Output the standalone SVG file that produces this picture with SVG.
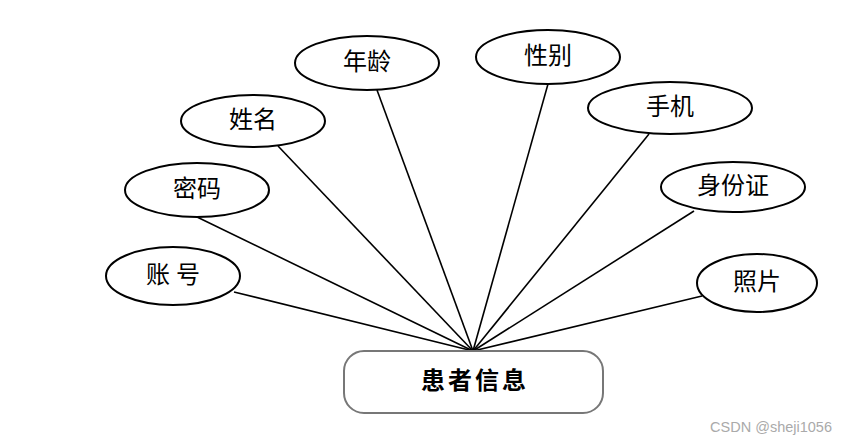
<svg xmlns="http://www.w3.org/2000/svg" width="847" height="444" viewBox="0 0 847 444">
<style>
.e{fill:#fff;stroke:#000;stroke-width:2}
.t{font-family:"Liberation Serif","Noto Sans CJK SC",serif;font-size:24px;fill:#000;text-anchor:middle;dominant-baseline:central}
.c line{stroke:#000;stroke-width:1.6}
</style>
<rect width="847" height="444" fill="#fff"/>
<g class="c" id="connectors">
<line x1="234" y1="292" x2="473" y2="351"/>
<line x1="197" y1="217" x2="473" y2="351"/>
<line x1="278" y1="146" x2="473" y2="351"/>
<line x1="377" y1="90" x2="473" y2="351"/>
<line x1="548" y1="84" x2="473" y2="351"/>
<line x1="649" y1="134" x2="473" y2="351"/>
<line x1="694" y1="211" x2="473" y2="351"/>
<line x1="702" y1="296" x2="473" y2="351"/>
</g>
<g id="n-zhanghao"><ellipse class="e" cx="173" cy="276" rx="67" ry="29"/><text class="t" x="176" y="275" letter-spacing="6">账号</text></g>
<g id="n-mima"><ellipse class="e" cx="197" cy="190" rx="72" ry="27"/><text class="t" x="197" y="189">密码</text></g>
<g id="n-xingming"><ellipse class="e" cx="253" cy="121" rx="72" ry="26"/><text class="t" x="253" y="120">姓名</text></g>
<g id="n-nianling"><ellipse class="e" cx="367" cy="63" rx="72" ry="27"/><text class="t" x="367" y="62">年龄</text></g>
<g id="n-xingbie"><ellipse class="e" cx="548" cy="57" rx="72" ry="27"/><text class="t" x="548" y="56">性别</text></g>
<g id="n-shouji"><ellipse class="e" cx="670" cy="108" rx="82" ry="26"/><text class="t" x="670" y="107">手机</text></g>
<g id="n-shenfenzheng"><ellipse class="e" cx="733" cy="187" rx="72" ry="25"/><text class="t" x="733" y="186">身份证</text></g>
<g id="n-zhaopian"><ellipse class="e" cx="757" cy="283" rx="60" ry="29"/><text class="t" x="757" y="282">照片</text></g>
<g id="n-huanzhe"><rect x="344" y="351" width="259" height="62" rx="20" ry="20" fill="#fff" stroke="#777" stroke-width="2"/><text class="t" x="475" y="381" font-weight="bold" font-size="22" letter-spacing="3">患者信息</text></g>
<text x="832" y="432" font-family="'Liberation Sans','Noto Sans CJK SC',sans-serif" font-size="14.5" fill="#aaa" text-anchor="end">CSDN @sheji1056</text>
</svg>
